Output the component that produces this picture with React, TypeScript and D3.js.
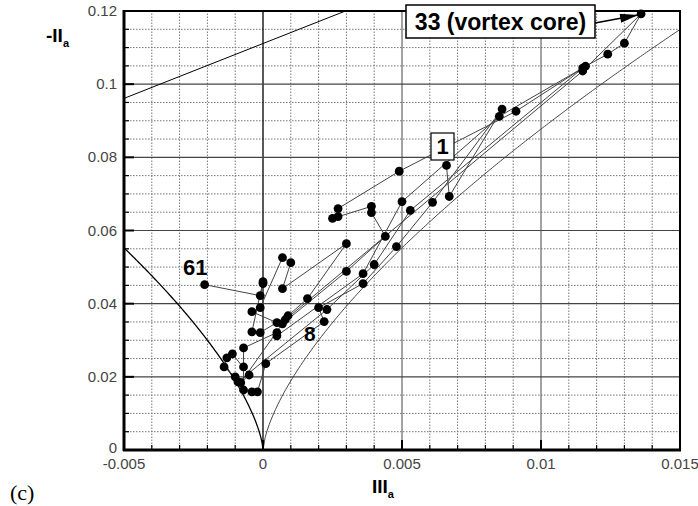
import React from "react";
import * as d3 from "d3";

// Anisotropy invariant trajectory (points numbered 1..61 in sequence)
const pointIII = [
  0.0066, 0.0067, 0.0086, 0.0061, 0.0048, 0.0036, 0.0020, 0.0022, 0.0001, -0.0002,
  -0.0004, -0.0007, -0.0007, -0.0007, 0.0005, 0.0005, 0.0036, 0.0050, 0.0085, 0.0115,
  0.0053, 0.0040, 0.0023, -0.0009, -0.0010, -0.0014, -0.0013, -0.0011, -0.0005, -0.0008,
  0.0008, 0.0115, 0.0136, 0.0130, 0.0124, 0.0116, 0.0091, 0.0049, 0.0027, 0.0027,
  0.0025, 0.0039, 0.0039, 0.0044, 0.0030, 0.0007, 0.0005, -0.0004, -0.0001, 0.0007,
  0.0010, 0.0007, 0.0030, 0.0016, 0.0009, -0.0001, -0.0004, 0.0000, 0.0000, -0.0001,
  -0.0021,
];
const pointNegII = [
  0.0778, 0.0693, 0.0932, 0.0677, 0.0556, 0.0455, 0.0389, 0.0351, 0.0236, 0.0159,
  0.0159, 0.0164, 0.0227, 0.0279, 0.0321, 0.0312, 0.0482, 0.0679, 0.0912, 0.1044,
  0.0655, 0.0507, 0.0384, 0.0186, 0.0200, 0.0227, 0.0252, 0.0263, 0.0205, 0.0184,
  0.0356, 0.1036, 0.1192, 0.1112, 0.1082, 0.1049, 0.0926, 0.0762, 0.0660, 0.0638,
  0.0633, 0.0666, 0.0649, 0.0584, 0.0488, 0.0345, 0.0348, 0.0378, 0.0389, 0.0526,
  0.0512, 0.0441, 0.0564, 0.0414, 0.0367, 0.0321, 0.0323, 0.0460, 0.0455, 0.0422,
  0.0452,
];

const xMajorTicks = [-0.005, 0, 0.005, 0.01, 0.015];
const xTickLabels = ["-0.005", "0", "0.005", "0.01", "0.015"];
const yMajorTicks = [0, 0.02, 0.04, 0.06, 0.08, 0.1, 0.12];
const yTickLabels = ["0", "0.02", "0.04", "0.06", "0.08", "0.1", "0.12"];

// Lumley triangle boundaries (theoretical limits)
const axiLeft = (t: number) => 3 * Math.pow(-t / 2, 2 / 3);
const axiRight = (t: number) => 3 * Math.pow(t / 2, 2 / 3);
const twoComp = (t: number) => 1 / 9 + 3 * t;

export default function App() {
  const W = 698, H = 506;
  const x = d3.scaleLinear().domain([-0.005, 0.015]).range([124, 680]);
  const y = d3.scaleLinear().domain([0, 0.12]).range([450, 11]);
  const [x0, x1] = x.range();
  const [y0, y1] = y.range();

  const xMinor = d3.range(-0.005, 0.01501, 0.001).map((v) => +v.toFixed(4));
  const yMinor = d3.range(0, 0.12001, 0.005).map((v) => +v.toFixed(4));
  const isMajor = (v: number, step: number) => Math.abs(v / step - Math.round(v / step)) < 1e-6;

  const line = d3.line<[number, number]>().x((d) => x(d[0])).y((d) => y(d[1]));
  const leftCurve: [number, number][] = d3.range(0, 201).map((i) => {
    const t = -0.005 + (0.005 * i) / 200;
    return [t, axiLeft(t)];
  });
  const rightCurve: [number, number][] = d3.range(0, 201).map((i) => {
    const t = (0.015 * i) / 200;
    return [t, axiRight(t)];
  });
  const tEnd = (0.12 - 1 / 9) / 3;
  const topLine: [number, number][] = [[-0.005, twoComp(-0.005)], [tEnd, twoComp(tEnd)]];

  const pts: [number, number][] = pointIII.map((v, i) => [v, pointNegII[i]]);

  const font = "Arial, 'Liberation Sans', sans-serif";

  return (
    <svg width={W} height={H} style={{ position: "absolute", left: 0, top: 0, background: "#fff" }}>
      <defs>
        <clipPath id="plot">
          <rect x={x0} y={y1} width={x1 - x0} height={y0 - y1} />
        </clipPath>
        <marker id="arr" viewBox="0 0 20 10" refX="20" refY="5" markerWidth="22" markerHeight="9" markerUnits="userSpaceOnUse" orient="auto">
          <path d="M0,0 L20,5 L0,10 Z" fill="#000" />
        </marker>
      </defs>
      <rect x={0} y={0} width={W} height={H} fill="#fff" />
      {/* minor grid */}
      {xMinor.filter((v) => !isMajor(v, 0.005)).map((v) => (
        <line key={"xm" + v} x1={x(v)} x2={x(v)} y1={y0} y2={y1} stroke="#777" strokeWidth={1} strokeDasharray="1.5,1.5" />
      ))}
      {yMinor.filter((v) => !isMajor(v, 0.02)).map((v) => (
        <line key={"ym" + v} x1={x0} x2={x1} y1={y(v)} y2={y(v)} stroke="#777" strokeWidth={1} strokeDasharray="1.5,1.5" />
      ))}
      {/* major grid */}
      {xMajorTicks.slice(1, -1).map((v) => (
        <line key={"xM" + v} x1={x(v)} x2={x(v)} y1={y0} y2={y1} stroke={v === 0 ? "#000" : "#666"} strokeWidth={v === 0 ? 1.3 : 1.2} />
      ))}
      {yMajorTicks.slice(1, -1).map((v) => (
        <line key={"yM" + v} x1={x0} x2={x1} y1={y(v)} y2={y(v)} stroke="#444" strokeWidth={1.2} />
      ))}
      {/* boundaries */}
      <g clipPath="url(#plot)" fill="none">
        <path d={line(leftCurve) || ""} stroke="#000" strokeWidth={1.3} />
        <path d={line(rightCurve) || ""} stroke="#333" strokeWidth={0.9} />
        <path d={line(topLine) || ""} stroke="#000" strokeWidth={1} />
      </g>
      {/* trajectory */}
      <path d={line(pts) || ""} fill="none" stroke="#444" strokeWidth={1} />
      {pts.map((p, i) => (
        <circle key={"p" + i} cx={x(p[0])} cy={y(p[1])} r={4.4} fill="#000" />
      ))}
      {/* frame */}
      <rect x={x0} y={y1} width={x1 - x0} height={y0 - y1} fill="none" stroke="#000" strokeWidth={2} />
      <line x1={x0} x2={x0} y1={y1 - 1} y2={y0 + 1} stroke="#000" strokeWidth={3} />
      <line x1={x0 - 1} x2={x1 + 1} y1={y0} y2={y0} stroke="#000" strokeWidth={3} />
      {/* ticks */}
      {xMinor.map((v) => (
        <line key={"xt" + v} x1={x(v)} x2={x(v)} y1={y0} y2={y0 - (isMajor(v, 0.005) ? 10 : 5)} stroke="#000" strokeWidth={isMajor(v, 0.005) ? 2 : 1.2} />
      ))}
      {yMinor.map((v) => (
        <line key={"yt" + v} x1={x0} x2={x0 + (isMajor(v, 0.02) ? 10 : 5)} y1={y(v)} y2={y(v)} stroke="#000" strokeWidth={isMajor(v, 0.02) ? 2 : 1.2} />
      ))}
      {/* tick labels */}
      {xMajorTicks.map((v, i) => (
        <text key={"xl" + v} x={x(v)} y={469} textAnchor="middle" fontFamily={font} fontSize={15} fill="#444">
          {xTickLabels[i]}
        </text>
      ))}
      {yMajorTicks.map((v, i) => (
        <text key={"yl" + v} x={117} y={y(v) + 5 - (v === 0 ? 2 : 0)} textAnchor="end" fontFamily={font} fontSize={15} fill="#444">
          {yTickLabels[i]}
        </text>
      ))}
      {/* axis titles */}
      <text x={46} y={42} fontFamily={font} fontSize={19} fontWeight="bold" fill="#000">
        -II<tspan fontSize={11} dy={5}>a</tspan>
      </text>
      <text x={372} y={493} fontFamily={font} fontSize={19} fontWeight="bold" fill="#000">
        III<tspan fontSize={11} dy={5}>a</tspan>
      </text>
      <text x={10} y={500} fontFamily="'Liberation Serif', 'Times New Roman', serif" fontSize={22} fill="#000">
        (c)
      </text>
      {/* annotations */}
      <line x1={595} y1={23} x2={x(pointIII[32]) - 3} y2={y(pointNegII[32]) + 1} stroke="#000" strokeWidth={1.5} markerEnd="url(#arr)" />
      <rect x={406} y={5} width={189} height={33} fill="#fff" stroke="#000" strokeWidth={1.5} />
      <text x={500.5} y={30} textAnchor="middle" fontFamily={font} fontSize={23} fontWeight="bold" fill="#000">
        33 (vortex core)
      </text>
      <rect x={431} y={133} width={23} height={27} fill="#fff" stroke="#000" strokeWidth={1.2} />
      <text x={442.5} y={154} textAnchor="middle" fontFamily={font} fontSize={22} fontWeight="bold" fill="#000">
        1
      </text>
      <text x={183} y={275} fontFamily={font} fontSize={22} fontWeight="bold" fill="#000">
        61
      </text>
      <text x={304} y={341} fontFamily={font} fontSize={21} fontWeight="bold" fill="#000">
        8
      </text>
    </svg>
  );
}
